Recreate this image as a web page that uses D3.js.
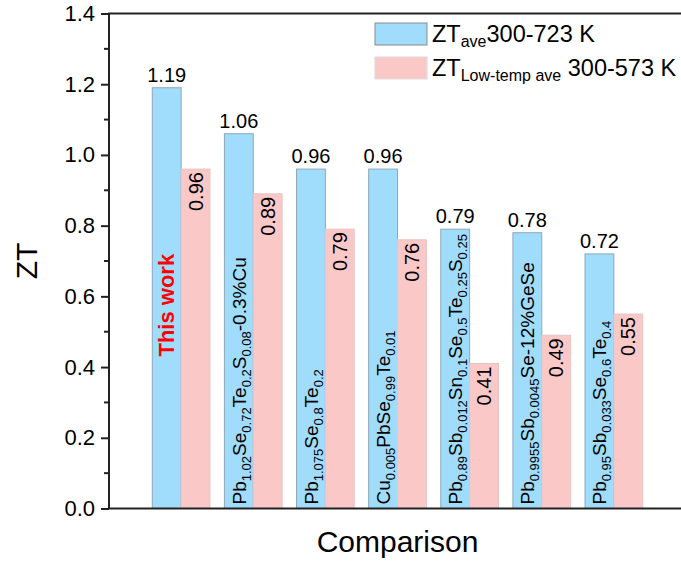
<!DOCTYPE html>
<html>
<head>
<meta charset="utf-8">
<script src="https://cdn.jsdelivr.net/npm/d3@7"></script>
<style>
  body { margin: 0; background: #fff; }
  svg text { font-family: "Liberation Sans", Arial, sans-serif; }
</style>
</head>
<body>
<div id="chart"></div>
<script>
// data
var samples = [
  "This work",
  "Pb_{1.02}Se_{0.72}Te_{0.2}S_{0.08}-0.3%Cu",
  "Pb_{1.075}Se_{0.8}Te_{0.2}",
  "Cu_{0.005}PbSe_{0.99}Te_{0.01}",
  "Pb_{0.89}Sb_{0.012}Sn_{0.1}Se_{0.5}Te_{0.25}S_{0.25}",
  "Pb_{0.9955}Sb_{0.0045}Se-12%GeSe",
  "Pb_{0.95}Sb_{0.033}Se_{0.6}Te_{0.4}"
];
var ztAve = [1.19, 1.06, 0.96, 0.96, 0.79, 0.78, 0.72];
var ztLow = [0.96, 0.89, 0.79, 0.76, 0.41, 0.49, 0.55];
var yTicks = [0.0, 0.2, 0.4, 0.6, 0.8, 1.0, 1.2, 1.4];

var svgWidth = 681;
var svgHeight = 563;

var margin = { top: 13.5, right: -5, bottom: 54.5, left: 109 };
var width = svgWidth - margin.left - margin.right;
var height = svgHeight - margin.top - margin.bottom;

var blueFill = "#a0dcfc", blueStroke = "#8ea8b8";
var pinkFill = "#fbc8c8", pinkStroke = "#e8c4c4";

var svg = d3.select("#chart").append("svg")
  .attr("width", svgWidth)
  .attr("height", svgHeight);

var g = svg.append("g")
  .attr("transform", `translate(${margin.left}, ${margin.top})`);

var x0 = d3.scaleBand()
  .domain(d3.range(samples.length))
  .range([0, width])
  .paddingInner(0.2)
  .paddingOuter(0.6);

var x1 = d3.scaleBand()
  .domain(["ave", "low"])
  .range([0, x0.bandwidth()]);

var y = d3.scaleLinear()
  .domain([0, 1.4])
  .range([height, 0]);

var rows = samples.map(function(s, i) {
  return { i: i, name: s, ave: ztAve[i], low: ztLow[i] };
});

// bars
var groups = g.selectAll(".grp")
  .data(rows)
  .enter().append("g")
  .attr("class", "grp")
  .attr("transform", d => `translate(${x0(d.i)},0)`);

groups.append("rect")
  .attr("x", x1("ave"))
  .attr("y", d => y(d.ave))
  .attr("width", x1.bandwidth())
  .attr("height", d => height - y(d.ave))
  .attr("fill", blueFill)
  .attr("stroke", blueStroke)
  .attr("stroke-width", 1);

groups.append("rect")
  .attr("x", x1("low"))
  .attr("y", d => y(d.low))
  .attr("width", x1.bandwidth())
  .attr("height", d => height - y(d.low))
  .attr("fill", pinkFill)
  .attr("stroke", pinkStroke)
  .attr("stroke-width", 1);

// value labels, blue on top
groups.append("text")
  .attr("x", x1("ave") + x1.bandwidth() / 2)
  .attr("y", d => y(d.ave) - 6)
  .attr("text-anchor", "middle")
  .style("font-size", "20px")
  .text(d => d.ave.toFixed(2));

// pink values rotated inside the bar
groups.append("text")
  .attr("transform", d => `translate(${x1("low") + x1.bandwidth() / 2 + 7}, ${y(d.low) + 3}) rotate(-90)`)
  .attr("text-anchor", "end")
  .style("font-size", "20px")
  .text(d => d.low.toFixed(2));

// sample names inside blue bars
function parseFormula(s) {
  var parts = [];
  var re = /([^_]+?)(?:_\{([^}]*)\}|$)/g;
  var m;
  while ((m = re.exec(s)) !== null) {
    if (m[0] === "") break;
    parts.push({ t: m[1], sub: false });
    if (m[2] !== undefined) parts.push({ t: m[2], sub: true });
  }
  return parts;
}

groups.each(function(d) {
  var cx = x1("ave") + x1.bandwidth() / 2 + 7;
  if (d.i === 0) {
    d3.select(this).append("text")
      .attr("transform", `translate(${cx}, ${y(0.575)}) rotate(-90)`)
      .attr("text-anchor", "middle")
      .attr("fill", "#ff0000")
      .style("font-size", "22px")
      .style("font-weight", "bold")
      .text(d.name);
    return;
  }
  var t = d3.select(this).append("text")
    .attr("transform", `translate(${cx}, ${height - 4}) rotate(-90)`)
    .style("font-size", "19px");
  var shifted = false;
  parseFormula(d.name).forEach(function(p) {
    var sp = t.append("tspan").text(p.t);
    if (p.sub) {
      sp.style("font-size", "13px").attr("dy", 5);
      shifted = true;
    } else if (shifted) {
      sp.attr("dy", -5);
      shifted = false;
    }
  });
});

// axes
var leftAxis = d3.axisLeft(y)
  .tickValues(yTicks)
  .tickFormat(d3.format(".1f"))
  .tickSize(8)
  .tickPadding(6);

var yAxisG = g.append("g").call(leftAxis);
yAxisG.select(".domain").remove();
yAxisG.selectAll("line").attr("stroke", "#222").attr("stroke-width", 2);
yAxisG.selectAll("text").style("font-size", "22px").attr("fill", "#000");

// minor ticks
var minor = d3.range(0.1, 1.4, 0.2);
g.selectAll(".minor")
  .data(minor)
  .enter().append("line")
  .attr("x1", -5).attr("x2", 0)
  .attr("y1", d => y(d)).attr("y2", d => y(d))
  .attr("stroke", "#222").attr("stroke-width", 2);

// frame: left, bottom, top
g.append("line").attr("x1", 0).attr("x2", 0).attr("y1", 0).attr("y2", height)
  .attr("stroke", "#222").attr("stroke-width", 2);
g.append("line").attr("x1", -1).attr("x2", width).attr("y1", height).attr("y2", height)
  .attr("stroke", "#222").attr("stroke-width", 2);
g.append("line").attr("x1", -1).attr("x2", width).attr("y1", 0).attr("y2", 0)
  .attr("stroke", "#222").attr("stroke-width", 2);

// axis titles
g.append("text")
  .attr("transform", `translate(${width / 2}, ${height + 43})`)
  .attr("text-anchor", "middle")
  .style("font-size", "30px")
  .text("Comparison");

g.append("text")
  .attr("transform", `translate(-72, ${height / 2}) rotate(-90)`)
  .attr("text-anchor", "middle")
  .style("font-size", "30px")
  .text("ZT");

// legend
var legend = svg.append("g").attr("transform", "translate(375, 23)");
var legendItems = [
  { fill: blueFill, stroke: "#8c8c8c", main: "ZT", sub: "ave", tail: "300-723 K" },
  { fill: pinkFill, stroke: "#dcdcdc", main: "ZT", sub: "Low-temp ave", tail: " 300-573 K" }
];
legendItems.forEach(function(it, i) {
  var row = legend.append("g").attr("transform", `translate(0, ${i * 34})`);
  row.append("rect")
    .attr("width", 52).attr("height", 22)
    .attr("fill", it.fill)
    .attr("stroke", it.stroke);
  var t = row.append("text")
    .attr("x", 57).attr("y", 19)
    .style("font-size", "23.5px");
  t.append("tspan").text(it.main);
  t.append("tspan").text(it.sub).style("font-size", "16px").attr("dy", 5);
  t.append("tspan").text(it.tail).attr("dy", -5);
});
</script>
</body>
</html>
